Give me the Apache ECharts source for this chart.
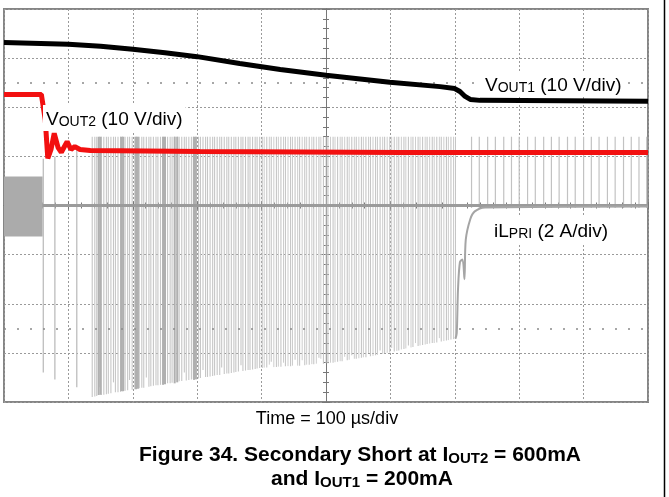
<!DOCTYPE html>
<html>
<head>
<meta charset="utf-8">
<script src="https://cdn.jsdelivr.net/npm/echarts@6/dist/echarts.min.js"></script>
<style>html,body{margin:0;padding:0;background:#fff}#c{width:669px;height:497px}</style>
</head>
<body>
<div id="c"></div>
<script>
// time axis: µs relative to screen centre (100 µs/div); vertical axis: divisions
const xTicks = [-500, 500, 100];
const yTicks = [-4, 4, 1];

// VOUT1 (black)
const vout1T = [-500, -400, -350, -300, -250, -200, -134, -71, 0, 99, 177, 200, 208, 216, 224, 239, 500];
const vout1V = [3.32, 3.28, 3.24, 3.18, 3.11, 3.03, 2.89, 2.77, 2.65, 2.51, 2.42, 2.38, 2.32, 2.22, 2.16, 2.14, 2.12];

// VOUT2 (red)
const vout2T = [-500, -442, -439, -436, -432, -427, -422, -416, -411, -407, -402, -396, -390, -382, -366, -196, 115, 500];
const vout2V = [2.26, 2.26, 2.22, 1.75, 0.96, 1.14, 1.47, 1.18, 1.08, 1.18, 1.30, 1.14, 1.20, 1.14, 1.12, 1.10, 1.08, 1.08];

// iL_PRI: switching burst before the short
const burstStart = [-500];
const burstEnd = [-440];
const burstLow = [-0.63];
const burstHigh = [0.59];

// iL_PRI: first spikes right after the short
const earlyT = [-439, -421, -387];
const earlyLow = [-3.40, -3.54, -3.70];
const earlyHigh = [0.95, 1.00, 1.20];

// iL_PRI: dense spike train (top of every spike)
const spikeTop = [1.40];
const spikeT = [
  -363, -359, -356, -352, -349, -345, -341, -338, -334, -330, -327, -323, -319, -316, -312, -308, -305, -301,
  -297, -294, -290, -286, -283, -279, -275, -272, -268, -264, -261, -257, -253, -250, -246, -242, -239, -235,
  -231, -228, -224, -220, -217, -213, -209, -206, -202, -198, -195, -191, -187, -184, -180, -176, -173, -169,
  -165, -162, -158, -154, -151, -147, -143, -140, -136, -132, -129, -125, -121, -118, -114, -110, -107, -103,
  -99, -92, -85, -77, -70, -63, -55, -48, -41, -33, -26, -19, -11, -4, 3, 11, 18, 25, 33, 40, 47,
  55, 62, 69, 77, 84, 91, 99, 106, 113, 121, 128, 135, 143, 150, 157, 165, 172, 179, 187, 194, 201];
const spikeLow = [
  -3.90, -3.89, -3.88, -3.70, -3.86, -3.85, -3.84, -3.83, -3.82, -3.60, -3.80, -3.80, -3.79, -3.78, -3.77, -3.76, -3.55, -3.75,
  -3.74, -3.73, -3.72, -3.71, -3.71, -3.50, -3.69, -3.68, -3.67, -3.66, -3.66, -3.65, -3.64, -3.45, -3.62, -3.62, -3.61, -3.60,
  -3.59, -3.58, -3.57, -3.40, -3.56, -3.55, -3.54, -3.53, -3.53, -3.52, -3.51, -3.35, -3.49, -3.49, -3.48, -3.47, -3.46, -3.45,
  -3.45, -3.30, -3.43, -3.42, -3.42, -3.41, -3.40, -3.39, -3.38, -3.25, -3.37, -3.36, -3.35, -3.35, -3.34, -3.33, -3.32, -3.31,
  -3.31, -3.30, -3.18, -3.29, -3.28, -3.27, -3.27, -3.14, -3.26, -3.25, -3.24, -3.23, -3.10, -3.22, -3.21, -3.20, -3.18, -3.17, -3.15, -3.05, -3.12,
  -3.10, -3.09, -3.07, -3.05, -2.95, -3.01, -2.99, -2.97, -2.95, -2.92, -2.85, -2.88, -2.86, -2.84, -2.82, -2.80, -2.79, -2.77, -2.75, -2.73, -2.71];
// interleaved spikes of the second half of the train
const spike2T = [-96, -88, -81, -74, -66, -59, -52, -44, -37, -30, -22, -15, -8, 0, 7, 14, 22, 29, 36, 44, 51,
  58, 66, 73, 80, 88, 95, 102, 110, 117, 124, 132, 139, 146, 154, 161, 168, 176, 183, 190, 198];
const spike2Low = [-3.30, -3.24, -3.29, -3.28, -3.20, -3.27, -3.26, -3.26, -3.15, -3.24, -3.23, -3.22, -3.12, -3.21, -3.20, -3.19, -3.17, -3.08, -3.14, -3.12, -3.11,
  -3.09, -3.00, -3.06, -3.04, -3.02, -3.00, -2.90, -2.96, -2.93, -2.91, -2.89, -2.80, -2.85, -2.83, -2.81, -2.80, -2.70, -2.76, -2.74, -2.72];

// iL_PRI: spikes after recovery (upward only)
const lateT = [226, 238, 251, 263, 276, 288, 300, 313, 325, 338, 350, 362, 375, 387, 400, 412, 424, 437, 449, 462, 474, 486, 498];
const lateLow = [-0.05];

// overlapping (darker) spike columns
const darkT = [-353, -350, -318, -315, -295, -292, -253, -250, -235, -231, -205, -202];
const darkLow = [-3.86, -3.85, -3.78, -3.78, -3.74, -3.73, -3.65, -3.64, -3.62, -3.60, -3.55, -3.54];

// iL_PRI baseline and recovery after the short clears
const baseT = [-440, 500];
const baseV = [0, 0];
const recT = [201, 203, 205, 208, 212, 215, 217, 224, 231, 247, 500];
const recV = [-2.71, -2.60, -1.70, -1.15, -1.10, -1.50, -0.70, -0.28, -0.12, -0.04, -0.02];

// marker rows
const markerRows = [2.5, -2.5];

const zip = (...a) => a[0].map((_, i) => a.map(x => (x.length === 1 ? x[0] : x[i])));

const chart = echarts.init(document.getElementById('c'), null, {renderer: 'canvas'});
const FONT = "'Liberation Sans', Arial, sans-serif";
const gridLine = {show: true, lineStyle: {color: '#9a9a9a', type: [2, 2], width: 1}};

function vline(color, width) {
  return function (params, api) {
    const a = api.coord([api.value(0), api.value(1)]);
    const b = api.coord([api.value(0), api.value(2)]);
    return {type: 'line', shape: {x1: a[0], y1: a[1], x2: b[0], y2: b[1]}, style: {stroke: color, lineWidth: width}};
  };
}
function axisX(pos, split) {
  return {type: 'value', min: xTicks[0], max: xTicks[1], interval: xTicks[2], position: pos,
    axisLine: {onZero: true, lineStyle: {color: '#777', width: 1}},
    axisTick: {show: true, inside: true, length: 4, lineStyle: {color: '#777'}},
    minorTick: {show: true, splitNumber: 5, length: 3, lineStyle: {color: '#777'}},
    axisLabel: {show: false}, splitLine: split ? gridLine : {show: false}};
}
function axisY(pos, split) {
  return {type: 'value', min: yTicks[0], max: yTicks[1], interval: yTicks[2], position: pos,
    axisLine: {onZero: true, lineStyle: {color: '#777', width: 1}},
    axisTick: {show: true, inside: true, length: 4, lineStyle: {color: '#777'}},
    minorTick: {show: true, splitNumber: 5, length: 3, lineStyle: {color: '#777'}},
    axisLabel: {show: false}, splitLine: split ? gridLine : {show: false}};
}
const labRich = {
  m: {fontSize: 19, fontFamily: FONT, fill: '#000', lineHeight: 22, verticalAlign: 'bottom'},
  s: {fontSize: 14, fontFamily: FONT, fill: '#000', lineHeight: 18, verticalAlign: 'bottom'}
};
const titleRich = {
  m: {fontSize: 21, fontWeight: 'bold', fontFamily: FONT, fill: '#000', lineHeight: 26, verticalAlign: 'bottom'},
  s: {fontSize: 15, fontWeight: 'bold', fontFamily: FONT, fill: '#000', lineHeight: 15, verticalAlign: 'bottom'}
};

const option = {
  animation: false,
  backgroundColor: '#ffffff',
  grid: {left: 4, top: 9, width: 644, height: 393, show: true, borderColor: '#858585', borderWidth: 2, backgroundColor: '#fff'},
  xAxis: [axisX('bottom', true), axisX('top', false)],
  yAxis: [axisY('left', true), axisY('right', false)],
  series: [
    {type: 'custom', name: 'burst', z: 2,
     data: zip(burstStart, burstEnd, burstLow, burstHigh),
     encode: {x: [0, 1], y: [2, 3]},
     renderItem: function (params, api) {
       const p0 = api.coord([api.value(0), api.value(3)]);
       const p1 = api.coord([api.value(1), api.value(2)]);
       return {type: 'rect', shape: {x: p0[0], y: p0[1], width: p1[0] - p0[0], height: p1[1] - p0[1]}, style: {fill: '#ababab'}};
     },
     markLine: {silent: true, symbol: 'none', label: {show: false},
       lineStyle: {color: '#8a8a8a', type: [2, 11], width: 1.5},
       data: markerRows.map(v => ({yAxis: v}))}
    },
    {type: 'custom', name: 'early', z: 3, data: zip(earlyT, earlyLow, earlyHigh), encode: {x: 0, y: [1, 2]},
     renderItem: vline('#bdbdbd', 1.3)},
    {type: 'custom', name: 'spikes', z: 3, data: zip(spikeT, spikeLow, spikeT.map(() => spikeTop[0])), encode: {x: 0, y: [1, 2]},
     renderItem: vline('#c6c6c6', 1.1)},
    {type: 'custom', name: 'spikes2', z: 3, data: zip(spike2T, spike2Low, spike2T.map(() => spikeTop[0])), encode: {x: 0, y: [1, 2]},
     renderItem: vline('#cdcdcd', 1.0)},
    {type: 'custom', name: 'late', z: 3, data: zip(lateT, lateT.map(() => lateLow[0]), lateT.map(() => spikeTop[0])), encode: {x: 0, y: [1, 2]},
     renderItem: vline('#c2c2c2', 1.2)},
    {type: 'custom', name: 'dark', z: 3, data: zip(darkT, darkLow, darkT.map(() => spikeTop[0])), encode: {x: 0, y: [1, 2]},
     renderItem: vline('#b0b0b0', 2)},
    {type: 'line', name: 'ilbase', z: 4, data: zip(baseT, baseV), symbol: 'none',
     lineStyle: {color: '#9b9b9b', width: 3}},
    {type: 'line', name: 'ilrec', z: 4, data: zip(recT, recV), symbol: 'none', smooth: 0.3,
     lineStyle: {color: '#a5a5a5', width: 2}},
    {type: 'line', name: 'VOUT2', z: 5, data: zip(vout2T, vout2V), symbol: 'none',
     lineStyle: {color: '#f21010', width: 5}},
    {type: 'line', name: 'VOUT1', z: 6, data: zip(vout1T, vout1V), symbol: 'none',
     lineStyle: {color: '#000000', width: 5}}
  ],
  graphic: [
    {type: 'text', x: 482, y: 84, z: 100, style: {
      text: '{m|V}{s|OUT1}{m| (10 V/div)}', verticalAlign: 'middle', align: 'left',
      backgroundColor: '#fff', padding: [2, 3, 2, 3], rich: labRich}},
    {type: 'text', x: 43, y: 118, z: 100, style: {
      text: '{m|V}{s|OUT2}{m| (10 V/div)}', verticalAlign: 'middle', align: 'left',
      backgroundColor: '#fff', padding: [2, 3, 2, 3], rich: labRich}},
    {type: 'text', x: 491, y: 230, z: 100, style: {
      text: '{m|iL}{s|PRI}{m| (2 A/div)}', verticalAlign: 'middle', align: 'left',
      backgroundColor: '#fff', padding: [2, 3, 2, 3], rich: labRich}},
    {type: 'text', x: 327, y: 419, z: 100, style: {
      text: 'Time = 100 µs/div', align: 'center', verticalAlign: 'middle',
      font: "18px 'Liberation Sans', Arial, sans-serif", fill: '#000'}},
    {type: 'text', x: 360, y: 453, z: 100, style: {
      text: '{m|Figure 34. Secondary Short at I}{s|OUT2}{m| = 600mA}', align: 'center', verticalAlign: 'middle', rich: titleRich}},
    {type: 'text', x: 362, y: 477, z: 100, style: {
      text: '{m|and I}{s|OUT1}{m| = 200mA}', align: 'center', verticalAlign: 'middle', rich: titleRich}},
    {type: 'line', z: 100, shape: {x1: 664.5, y1: 0, x2: 664.5, y2: 497}, style: {stroke: '#000', lineWidth: 1.5}}
  ]
};
chart.setOption(option);
</script>
</body>
</html>
